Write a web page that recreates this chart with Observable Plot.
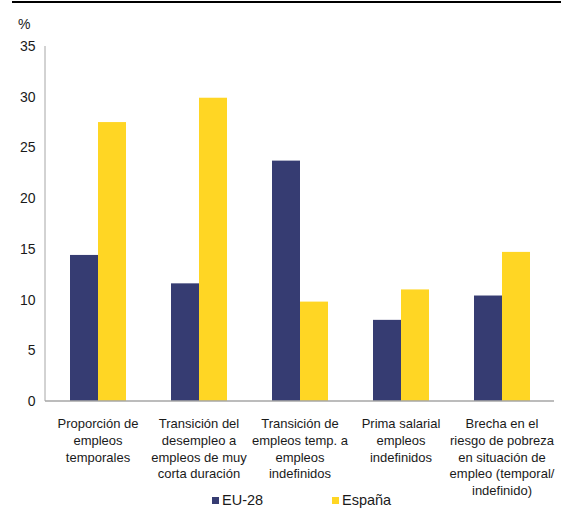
<!DOCTYPE html>
<html><head><meta charset="utf-8">
<script src="https://cdn.jsdelivr.net/npm/d3@7"></script>
<script src="https://cdn.jsdelivr.net/npm/@observablehq/plot@0.6"></script>
<style>
body{margin:0;background:#fff;font-family:"Liberation Sans",Arial,sans-serif;color:#1a1a1a}
#wrap{position:relative;width:561px;height:509px;overflow:hidden}
#topline{position:absolute;left:12px;right:0;top:1px;height:2px;background:#000}
#pct{position:absolute;left:18px;top:16px;font-size:14px;line-height:16px}
#legend{position:absolute;top:492px;left:212px;font-size:14.5px;line-height:16px;display:flex}
#legend .it{display:flex;align-items:center}
#legend .sw{width:7px;height:7px;margin-right:3px}
</style></head>
<body><div id="wrap"><div id="topline"></div><div id="chart"></div><div id="pct">%</div><div id="legend"></div></div>
<script>
const categories = [
  "Proporción de\nempleos\ntemporales",
  "Transición del\ndesempleo a\nempleos de muy\ncorta duración",
  "Transición de\nempleos temp. a\nempleos\nindefinidos",
  "Prima salarial\nempleos\nindefinidos",
  "Brecha en el\nriesgo de pobreza\nen situación de\nempleo (temporal/\nindefinido)"
];
const series = ["EU-28", "España"];
const eu28 = [14.4, 11.6, 23.7, 8.0, 10.4];
const espana = [27.5, 29.9, 9.8, 11.0, 14.7];
const yTicks = [0, 5, 10, 15, 20, 25, 30, 35];
const colors = ["#363C72", "#FFD624"];

const data = [];
categories.forEach((c, i) => {
  data.push({cat: c, series: series[0], value: eu28[i]});
  data.push({cat: c, series: series[1], value: espana[i]});
});

const chart = Plot.plot({
  width: 561, height: 496,
  marginLeft: 45, marginRight: 7, marginTop: 46, marginBottom: 95,
  style: {overflow: "visible", fontFamily: "'Liberation Sans', Arial, sans-serif", color: "#1a1a1a", background: "transparent"},
  fx: {domain: categories, padding: 0, label: null},
  x: {domain: series, paddingInner: 0, paddingOuter: 0.76, axis: null},
  y: {domain: [0, 35], label: null},
  color: {domain: series, range: colors},
  marks: [
    Plot.barY(data, {fx: "cat", x: "series", y: "value", fill: "series"}),
    Plot.axisY(yTicks, {tickSize: 0, tickPadding: 12, fontSize: 14, label: null}),
    Plot.axisFx({anchor: "bottom", tickSize: 0, tickPadding: 15, fontSize: 13, lineHeight: 1.28, label: null, tickFormat: d => d})
  ]
});
document.getElementById("chart").appendChild(chart);

const svg = d3.select(chart);
const ys = chart.scale("y");
const fxs = chart.scale("fx");
svg.append("line").attr("x1", fxs.range[0]).attr("x2", fxs.range[0])
  .attr("y1", ys.apply(35)).attr("y2", ys.apply(0)).attr("stroke", "#a6a6a6").attr("stroke-width", 1);
svg.append("line").attr("x1", fxs.range[0]).attr("x2", fxs.range[1])
  .attr("y1", ys.apply(0)).attr("y2", ys.apply(0)).attr("stroke", "#a6a6a6").attr("stroke-width", 1.5);

const legend = document.getElementById("legend");
series.forEach((s, i) => {
  const it = document.createElement("div");
  it.className = "it";
  it.style.width = i === 0 ? "120px" : "auto";
  const sw = document.createElement("span");
  sw.className = "sw"; sw.style.background = colors[i];
  const t = document.createElement("span"); t.textContent = s;
  it.appendChild(sw); it.appendChild(t);
  legend.appendChild(it);
});
</script></body></html>
